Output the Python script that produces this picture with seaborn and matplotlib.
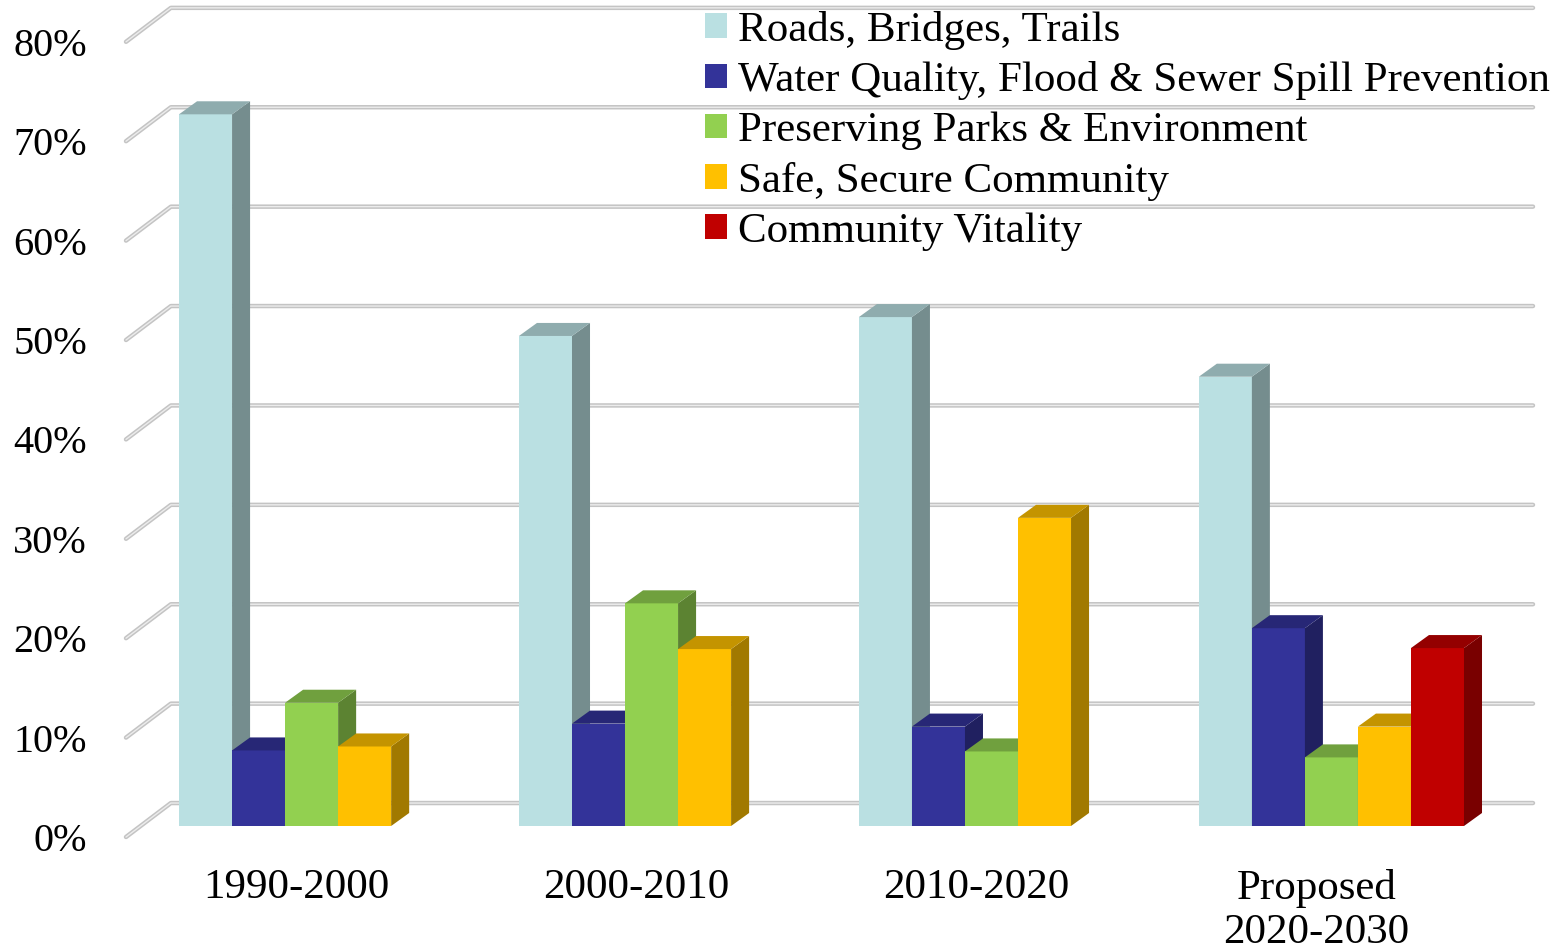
import numpy as np
import pandas as pd
import matplotlib
matplotlib.use("Agg")
import matplotlib.pyplot as plt
import matplotlib.colors as mcolors
from matplotlib.patches import Patch, Polygon
from matplotlib.transforms import ScaledTranslation
import seaborn as sns

# chart data (percent of spending)
periods = ["1990-2000", "2000-2010", "2010-2020", "Proposed\n2020-2030"]
series = ["Roads, Bridges, Trails",
          "Water Quality, Flood & Sewer Spill Prevention",
          "Preserving Parks & Environment",
          "Safe, Secure Community",
          "Community Vitality"]
roads = [71.6, 49.3, 51.2, 45.2]
water = [7.6, 10.3, 10.0, 19.9]
parks = [12.4, 22.4, 7.5, 6.9]
safe = [8.0, 17.8, 31.0, 10.0]
vitality = [np.nan, np.nan, np.nan, 17.9]
colors = ["#bae0e2", "#333399", "#92d050", "#ffc000", "#c00000"]
yticks = np.arange(0, 81, 10)

rows = []
for name, vals in zip(series, [roads, water, parks, safe, vitality]):
    for p, v in zip(periods, vals):
        rows.append({"period": p, "series": name, "value": v})
df = pd.DataFrame(rows)

sns.set_style("white")
plt.rcParams["font.family"] = ["Liberation Serif", "DejaVu Serif"]
plt.rcParams["text.color"] = "black"
plt.rcParams["xtick.color"] = "black"
plt.rcParams["ytick.color"] = "black"

fig = plt.figure(figsize=(15.62, 9.52), dpi=100)
ax = fig.add_axes([126 / 1562, (952 - 837) / 952, (1533 - 126) / 1562, 837 / 952])

sns.barplot(data=df.dropna(), x="period", y="value", hue="series",
            order=periods, hue_order=series, palette=colors,
            width=0.78, gap=0, dodge=True, saturation=1, errorbar=None,
            legend=False, ax=ax)

# fake 3d geometry (data units)
dx, dy = 0.053, 1.31          # bar depth
front = -1.107                # front edge of floor
back = 2.31                   # back wall
wall_dx = 0.132

ax.set_xlim(-0.546, 3.593)
ax.set_ylim(front, 83.1)

# gridlines on the back wall + diagonal floor ticks
x0, x1 = ax.get_xlim()
for g in yticks:
    for lw, c in [(3.2, "#c4c4c4"), (1.0, "#ececec")]:
        ax.plot([x0, x0 + wall_dx, x1], [g + front, g + back, g + back],
                color=c, lw=lw, solid_capstyle="round", zorder=1, clip_on=False)

# side and top faces for the bars
bars = [p for p in ax.patches if np.isfinite(p.get_height()) and p.get_height() > 0]
bars.sort(key=lambda p: p.get_x())
for k, p in enumerate(bars):
    x, w, h = p.get_x(), p.get_width(), p.get_height()
    base = np.array(mcolors.to_rgb(p.get_facecolor()))
    z = 3 + k * 0.1
    p.set_zorder(z)
    p.set_edgecolor("none")
    side = Polygon([(x + w, 0), (x + w + dx, dy), (x + w + dx, h + dy), (x + w, h)],
                   closed=True, facecolor=base * 0.63, edgecolor="none", zorder=z)
    top = Polygon([(x, h), (x + dx, h + dy), (x + w + dx, h + dy), (x + w, h)],
                  closed=True, facecolor=base * 0.77, edgecolor="none", zorder=z)
    ax.add_patch(side)
    ax.add_patch(top)

for s in ax.spines.values():
    s.set_visible(False)

ax.set_yticks(yticks + front)
ax.set_yticklabels([f"{g}%" for g in yticks], fontsize=29)
ax.tick_params(axis="y", length=0, pad=28)
ax.set_xticks(range(len(periods)))
ax.set_xticklabels(periods, fontsize=31, linespacing=1.2)
ax.tick_params(axis="x", length=0, pad=23)
for lbl in ax.get_xticklabels():
    lbl.set_transform(lbl.get_transform() + ScaledTranslation(-0.15, 0, fig.dpi_scale_trans))
ax.set_xlabel("")
ax.set_ylabel("")

handles = [Patch(facecolor=c, edgecolor="none") for c in colors]
ax.legend(handles, series, loc="upper left",
          bbox_to_anchor=(705 / 1562, 1 - 11 / 952), bbox_transform=fig.transFigure,
          frameon=False, fontsize=31, handlelength=0.5, handleheight=0.5,
          handletextpad=0.26, labelspacing=0.265, borderpad=0, borderaxespad=0)

fig.savefig("out.png", dpi=100)
